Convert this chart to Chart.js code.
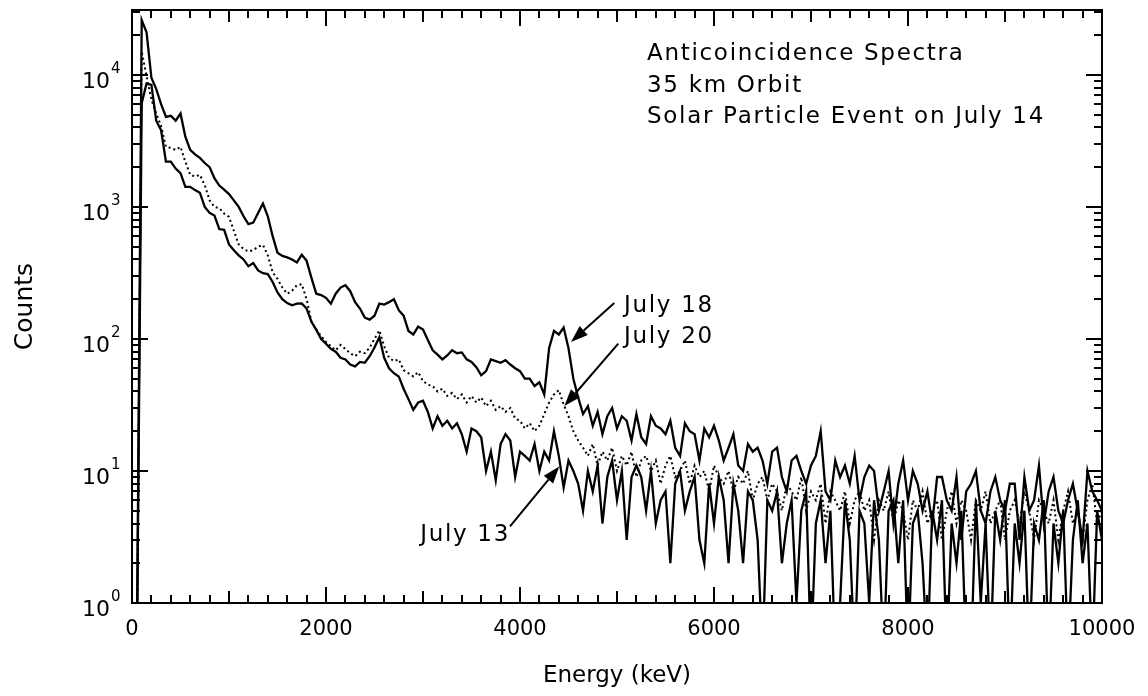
<!DOCTYPE html>
<html>
<head>
<meta charset="utf-8">
<title>Anticoincidence Spectra</title>
<script src="https://cdn.jsdelivr.net/npm/chart.js@4.4.0/dist/chart.umd.min.js"></script>
<style>
  html, body { margin: 0; padding: 0; background: #fff; }
  #wrap { width: 1148px; height: 696px; }
</style>
</head>
<body>
<div id="wrap"><canvas id="spectra" width="1148" height="696"></canvas></div>
<script>
// 50 keV per channel, first channel at 0 keV
const CHANNEL_KEV = 50;

// counts per channel, one row = 10 channels (500 keV)
const july18 = [
  0, 0, 26000, 21000, 9500, 7800, 6000, 4800, 4900, 4500,        // 0
  5100, 3400, 2700, 2500, 2350, 2150, 2000, 1650, 1450, 1350,    // 500
  1250, 1120, 1000, 850, 740, 760, 900, 1060, 850, 600,          // 1000
  450, 425, 415, 400, 380, 435, 390, 290, 220, 215,              // 1500
  205, 185, 220, 245, 255, 230, 190, 170, 145, 140,              // 2000
  150, 185, 182, 190, 200, 165, 150, 115, 108, 124,              // 2500
  118, 98, 82, 76, 70, 75, 82, 78, 79, 70,                       // 3000
  67, 61, 53, 57, 70, 68, 66, 69, 64, 60,                        // 3500
  57, 50, 50, 44, 47, 38, 85, 115, 108, 122,                     // 4000
  85, 50, 36, 27, 31, 22, 28, 19, 26, 30,                        // 4500
  21, 26, 24, 17, 27, 18, 16, 26, 22, 21,                        // 5000
  19, 24, 15, 13, 23, 20, 19, 12, 21, 18,                        // 5500
  22, 17, 12, 15, 19, 11, 10, 16, 14, 15,                        // 6000
  12, 8, 14, 15, 9, 7, 12, 13, 10, 8,                            // 6500
  11, 13, 20, 7, 6, 12, 9, 11, 8, 13,                            // 7000
  6, 9, 11, 10, 5, 7, 10, 4, 8, 12,                              // 7500
  6, 10, 8, 5, 7, 4, 9, 9, 6, 5,                                 // 8000
  9, 3, 7, 8, 10, 5, 4, 7, 9, 6,                                 // 8500
  5, 8, 8, 3, 9, 5, 6, 11, 4, 7,                                 // 9000
  9, 5, 4, 6, 8, 5, 3, 10, 7, 6,                                 // 9500
  5                                                              // 10000
];

const july20 = [
  0, 0, 15000, 9800, 6500, 5100, 4100, 2850, 2800, 2700,         // 0
  2850, 2200, 1750, 1700, 1750, 1460, 1120, 1000, 980, 890,      // 500
  840, 660, 520, 480, 460, 470, 500, 515, 430, 320,              // 1000
  285, 245, 220, 232, 255, 260, 200, 135, 118, 105,              // 1500
  95, 88, 82, 90, 84, 78, 74, 80, 78, 86,                        // 2000
  100, 116, 88, 72, 68, 70, 58, 55, 52, 56,                      // 2500
  48, 45, 44, 40, 42, 37, 39, 35, 38, 33,                        // 3000
  37, 33, 36, 31, 34, 29, 31, 28, 30, 25,                        // 3500
  24, 21, 23, 20, 22, 27, 33, 38, 41, 32,                        // 4000
  26, 20, 17, 15, 13, 16, 11, 14, 12, 15,                        // 4500
  10, 13, 11, 14, 9, 12, 13, 10, 12, 8,                          // 5000
  11, 13, 9, 10, 12, 8, 11, 9, 10, 7,                            // 5500
  11, 9, 8, 10, 7, 9, 8, 10, 6, 8,                               // 6000
  9, 6, 8, 7, 5, 8, 7, 6, 9, 5,                                  // 6500
  7, 6, 8, 4, 7, 6, 5, 7, 4, 6,                                  // 7000
  7, 5, 6, 3, 6, 5, 7, 4, 6, 5,                                  // 7500
  3, 6, 5, 7, 4, 5, 6, 3, 5, 7,                                  // 8000
  4, 6, 5, 3, 6, 5, 7, 4, 5, 6,                                  // 8500
  3, 5, 6, 4, 7, 5, 3, 6, 5, 4,                                  // 9000
  6, 3, 5, 7, 4, 5, 3, 6, 8, 4,                                  // 9500
  5                                                              // 10000
];

const july13 = [
  0, 0, 6100, 8600, 8400, 4500, 3800, 2200, 2200, 1950,          // 0
  1800, 1420, 1420, 1340, 1280, 1000, 900, 860, 680, 670,        // 500
  520, 470, 430, 400, 355, 375, 330, 315, 310, 270,              // 1000
  225, 200, 187, 180, 185, 186, 170, 135, 117, 100,              // 1500
  92, 84, 80, 72, 70, 64, 62, 67, 66, 74,                        // 2000
  86, 103, 72, 60, 55, 52, 42, 35, 29, 33,                       // 2500
  34, 28, 21, 26, 22, 24, 21, 23, 19, 14,                        // 3000
  21, 20, 18, 10, 14, 8.5, 16, 19, 17, 9,                        // 3500
  14, 13, 12, 16, 10, 14, 12, 20, 13, 7.5,                       // 4000
  12, 10, 8, 5, 10, 7, 11, 4, 9, 12,                             // 4500
  6, 10, 3, 9, 11, 9, 5, 10, 4, 6,                               // 5000
  7, 2, 8, 10, 5, 7, 9, 3, 2, 8,                                 // 5500
  4, 9, 6, 2, 8, 5, 2, 7, 6, 3,                                  // 6000
  0, 6, 5, 7, 2, 4, 6, 1, 5, 7,                                  // 6500
  0, 4, 6, 2, 5, 0, 1, 6, 3, 0,                                  // 7000
  5, 4, 1, 6, 3, 0, 5, 6, 2, 6,                                  // 7500
  0, 4, 5, 2, 0, 5, 3, 6, 0, 4,                                  // 8000
  2, 5, 0, 0, 6, 1, 4, 0, 5, 3,                                  // 8500
  6, 0, 4, 2, 5, 0, 4, 3, 6, 0,                                  // 9000
  4, 2, 5, 0, 3, 6, 2, 4, 0, 5,                                  // 9500
  3                                                              // 10000
];

const energyLabels = [0, 2000, 4000, 6000, 8000, 10000];
const countDecades = [0, 1, 2, 3, 4];

const infoLines = ['Anticoincidence Spectra', '35 km Orbit', 'Solar Particle Event on July 14'];

// arrow callouts, in [keV, counts]
const callouts = [
  { text: 'July 18', tip: [4526, 95], tail: [4972, 187], at: [5072, 160], align: 'left' },
  { text: 'July 20', tip: [4457, 31], tail: [5013, 92], at: [5072, 93], align: 'left' },
  { text: 'July 13', tip: [4405, 10.8], tail: [3897, 3.8], at: [3897, 2.95], align: 'right' }
];

// empty channels have no place on a log axis, push them under the 1-count floor
const EMPTY_FLOOR = 0.4;
const toPoints = counts => counts.map((c, i) => ({ x: i * CHANNEL_KEV, y: c > 0 ? c : EMPTY_FLOOR }));

const FONT = '"DejaVu Sans", sans-serif';

function drawArrow(ctx, x0, y0, x1, y1) {
  const ang = Math.atan2(y1 - y0, x1 - x0);
  const headLen = 17, halfW = 6;
  const bx = x1 - headLen * Math.cos(ang), by = y1 - headLen * Math.sin(ang);
  ctx.beginPath();
  ctx.moveTo(x0, y0);
  ctx.lineTo(bx, by);
  ctx.stroke();
  ctx.beginPath();
  ctx.moveTo(x1, y1);
  ctx.lineTo(bx + halfW * Math.sin(ang), by - halfW * Math.cos(ang));
  ctx.lineTo(bx - halfW * Math.sin(ang), by + halfW * Math.cos(ang));
  ctx.closePath();
  ctx.fill();
}

const frameAndText = {
  id: 'frameAndText',
  afterDatasetsDraw(chart) {
    const { ctx, chartArea: a, scales: { x, y } } = chart;
    ctx.save();
    ctx.strokeStyle = '#000';
    ctx.fillStyle = '#000';
    ctx.lineWidth = 2;
    ctx.strokeRect(a.left, a.top, a.right - a.left, a.bottom - a.top);

    // inward ticks: energy every 200 keV on bottom and top
    ctx.beginPath();
    for (let e = 200; e < x.max; e += 200) {
      const px = Math.round(x.getPixelForValue(e));
      const len = e % 2000 === 0 ? 16 : (e % 1000 === 0 ? 12 : 8);
      ctx.moveTo(px, a.bottom); ctx.lineTo(px, a.bottom - len);
      ctx.moveTo(px, a.top); ctx.lineTo(px, a.top + len);
    }
    // counts: decades long, 2..9 short, left and right
    for (let d = 0; d <= 4; d++) {
      for (let m = 1; m <= 9; m++) {
        const v = m * Math.pow(10, d);
        if (v <= y.min || v > y.max) continue;
        const py = Math.round(y.getPixelForValue(v));
        const len = m === 1 ? 16 : 8;
        ctx.moveTo(a.left, py); ctx.lineTo(a.left + len, py);
        ctx.moveTo(a.right, py); ctx.lineTo(a.right - len, py);
      }
    }
    ctx.stroke();

    // tick labels
    ctx.textBaseline = 'alphabetic';
    ctx.font = '21px ' + FONT;
    ctx.textAlign = 'center';
    energyLabels.forEach(e => ctx.fillText(String(e), x.getPixelForValue(e), a.bottom + 32));

    countDecades.forEach(k => {
      const py = y.getPixelForValue(Math.pow(10, k));
      ctx.font = '22px ' + FONT;
      ctx.textAlign = 'right';
      ctx.fillText('10', a.left - 22, py + 13);
      ctx.font = '15px ' + FONT;
      ctx.textAlign = 'left';
      ctx.fillText(String(k), a.left - 21, py - 2);
    });

    // axis titles
    ctx.font = '23px ' + FONT;
    ctx.textAlign = 'center';
    ctx.fillText('Energy (keV)', (a.left + a.right) / 2, a.bottom + 79);
    ctx.save();
    ctx.font = '25px ' + FONT;
    ctx.translate(32, (a.top + a.bottom) / 2);
    ctx.rotate(-Math.PI / 2);
    ctx.fillText('Counts', 0, 0);
    ctx.restore();

    // info block
    ctx.font = '23px ' + FONT;
    ctx.letterSpacing = '1.7px';
    ctx.textAlign = 'left';
    infoLines.forEach((line, i) => ctx.fillText(line, a.left + 515, a.top + 50 + i * 31.5));

    // callouts
    callouts.forEach(c => {
      ctx.textAlign = c.align;
      ctx.fillText(c.text, x.getPixelForValue(c.at[0]), y.getPixelForValue(c.at[1]));
      drawArrow(ctx,
        x.getPixelForValue(c.tail[0]), y.getPixelForValue(c.tail[1]),
        x.getPixelForValue(c.tip[0]), y.getPixelForValue(c.tip[1]));
    });
    ctx.letterSpacing = '0px';
    ctx.restore();
  }
};

const lineStyle = { borderColor: '#000', backgroundColor: '#000', borderWidth: 2.3, pointRadius: 0, tension: 0, fill: false };

new Chart(document.getElementById('spectra').getContext('2d'), {
  type: 'line',
  data: {
    datasets: [
      { label: 'July 13', data: toPoints(july13), ...lineStyle },
      { label: 'July 20', data: toPoints(july20), ...lineStyle, borderWidth: 2, borderDash: [2, 3] },
      { label: 'July 18', data: toPoints(july18), ...lineStyle }
    ]
  },
  options: {
    responsive: false,
    animation: false,
    layout: { padding: { left: 132, right: 46, top: 10, bottom: 93 } },
    plugins: { legend: { display: false }, tooltip: { enabled: false } },
    scales: {
      x: { type: 'linear', min: 0, max: 10000, display: false },
      y: { type: 'logarithmic', min: 1, max: 31000, display: false }
    }
  },
  plugins: [frameAndText]
});
</script>
</body>
</html>
